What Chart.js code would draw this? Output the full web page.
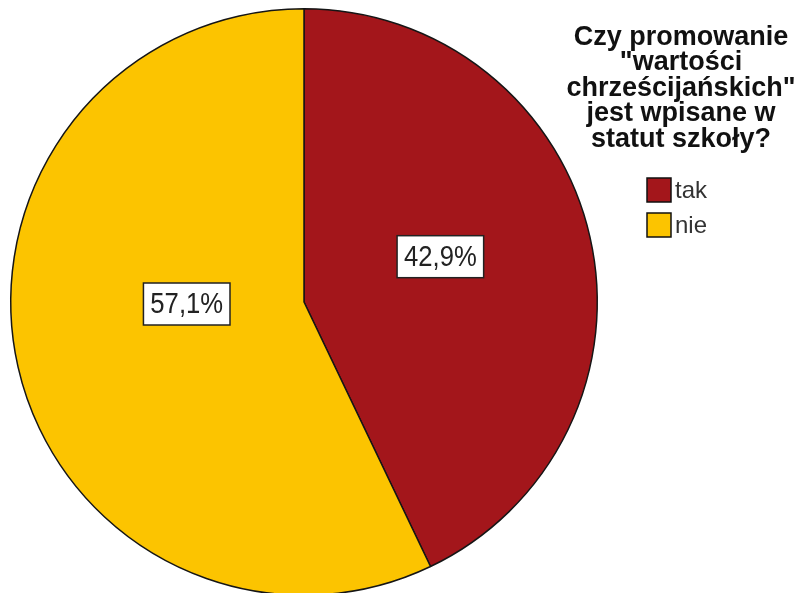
<!DOCTYPE html>
<html>
<head>
<meta charset="utf-8">
<script src="https://cdn.jsdelivr.net/npm/chart.js@4"></script>
<style>
  body { margin: 0; background: #fff; }
  #wrap { width: 800px; height: 593px; overflow: hidden; }
</style>
</head>
<body>
<div id="wrap"><canvas id="pieChart" width="800" height="600"></canvas></div>
<script>
// dane
const categories = ["tak", "nie"];
const percents = [42.9, 57.1];
const legendTitle = ["Czy promowanie", "\"wartości", "chrześcijańskich\"", "jest wpisane w", "statut szkoły?"];
const sliceColors = ["#a3161b", "#fcc400"];

// etykiety z procentami w białych ramkach
const boxLabels = {
  id: "boxLabels",
  afterDatasetsDraw(chart, args, opts) {
    const ctx = chart.ctx;
    const meta = chart.getDatasetMeta(0);
    ctx.save();
    ctx.font = opts.font;
    ctx.textAlign = "center";
    ctx.textBaseline = "middle";
    meta.data.forEach((arc, i) => {
      const p = arc.getProps(["x", "y", "startAngle", "endAngle", "outerRadius"], true);
      const a = (p.startAngle + p.endAngle) / 2 + opts.angleShift[i] * Math.PI / 180;
      const r = p.outerRadius * opts.radius[i];
      const x = p.x + Math.cos(a) * r;
      const y = p.y + Math.sin(a) * r;
      const txt = chart.data.datasets[0].data[i].toFixed(1).replace(".", ",") + "%";
      const w = ctx.measureText(txt).width + 10;
      const h = 42;
      ctx.fillStyle = "#fff";
      ctx.fillRect(x - w / 2, y - h / 2, w, h);
      ctx.strokeStyle = "#222";
      ctx.lineWidth = 1.5;
      ctx.strokeRect(x - w / 2, y - h / 2, w, h);
      ctx.fillStyle = "#222";
      // trochę wyższe litery, jak w oryginale
      ctx.save();
      ctx.translate(x, y + 1);
      ctx.scale(0.95, 1.1);
      ctx.fillText(txt, 0, 0);
      ctx.restore();
    });
    ctx.restore();
  }
};

// legenda po prawej stronie
const sideLegend = {
  id: "sideLegend",
  afterDraw(chart, args, opts) {
    const ctx = chart.ctx;
    const cx = opts.x;
    ctx.save();
    ctx.fillStyle = "#111";
    ctx.textAlign = "center";
    ctx.textBaseline = "middle";
    ctx.font = "bold 27px 'Liberation Sans', Arial, sans-serif";
    legendTitle.forEach((line, i) => {
      ctx.save();
      ctx.translate(cx, opts.titleTop + i * 25.5);
      ctx.scale(1, 1.03);
      ctx.fillText(line, 0, 0);
      ctx.restore();
    });
    ctx.font = "24px 'Liberation Sans', Arial, sans-serif";
    ctx.textAlign = "left";
    chart.data.labels.forEach((lab, i) => {
      const y = opts.itemsTop + i * 35;
      ctx.fillStyle = chart.data.datasets[0].backgroundColor[i];
      ctx.fillRect(opts.boxX, y, 24, 24);
      ctx.strokeStyle = "#111";
      ctx.lineWidth = 1.5;
      ctx.strokeRect(opts.boxX, y, 24, 24);
      ctx.fillStyle = "#333";
      ctx.fillText(lab, opts.boxX + 28, y + 13);
    });
    ctx.restore();
  }
};

new Chart(document.getElementById("pieChart"), {
  type: "pie",
  data: {
    labels: categories,
    datasets: [{
      data: percents,
      backgroundColor: sliceColors,
      borderColor: "#151515",
      borderWidth: 1.5
    }]
  },
  options: {
    responsive: false,
    animation: false,
    layout: { padding: { left: 10, right: 202, top: 8, bottom: 4 } },
    plugins: {
      legend: { display: false },
      tooltip: { enabled: false },
      boxLabels: {
        font: "27px 'Liberation Sans', Arial, sans-serif",
        radius: [0.49, 0.40],
        angleShift: [-5.6, 11.8]
      },
      sideLegend: { x: 681, titleTop: 37, itemsTop: 178, boxX: 647 }
    }
  },
  plugins: [boxLabels, sideLegend]
});
</script>
</body>
</html>
